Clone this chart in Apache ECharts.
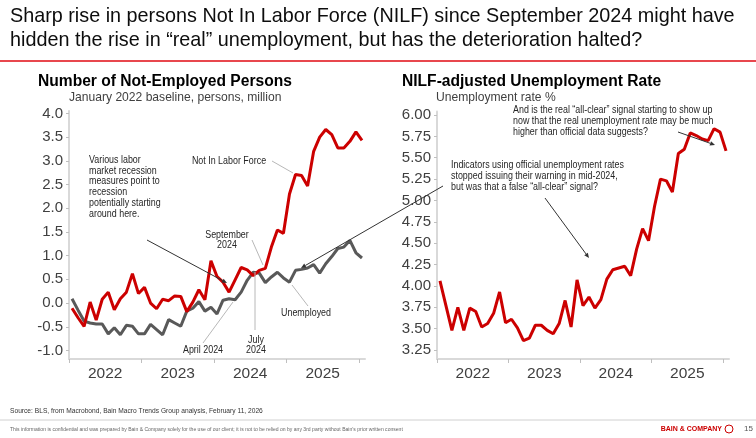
<!DOCTYPE html>
<html><head><meta charset="utf-8">
<script src="https://cdn.jsdelivr.net/npm/echarts@6/dist/echarts.min.js"></script>
<style>html,body{margin:0;padding:0;background:#fff}#c{width:756px;height:438px}</style>
</head><body><div id="c"></div>
<script>
// Months Jan 2022 .. Jan 2026 (49 monthly points)
const months = ['2022-01','2022-02','2022-03','2022-04','2022-05','2022-06','2022-07','2022-08','2022-09','2022-10','2022-11','2022-12',
'2023-01','2023-02','2023-03','2023-04','2023-05','2023-06','2023-07','2023-08','2023-09','2023-10','2023-11','2023-12',
'2024-01','2024-02','2024-03','2024-04','2024-05','2024-06','2024-07','2024-08','2024-09','2024-10','2024-11','2024-12',
'2025-01','2025-02','2025-03','2025-04','2025-05','2025-06','2025-07','2025-08','2025-09','2025-10','2025-11','2025-12','2026-01'];
const yearLabels = ['2022','2023','2024','2025'];
const leftTicks = [-1.0,-0.5,0.0,0.5,1.0,1.5,2.0,2.5,3.0,3.5,4.0];
const rightTicks = [3.25,3.50,3.75,4.00,4.25,4.50,4.75,5.00,5.25,5.50,5.75,6.00];
// Not In Labor Force change vs Jan 2022 (million)
const nilf = [-0.11,-0.31,-0.49,0.02,-0.36,0.08,0.23,-0.14,0.09,0.23,0.62,0.20,
0.33,0.00,-0.12,0.08,0.05,0.15,0.14,-0.18,0.02,0.28,0.07,0.89,
0.56,0.44,0.23,0.49,0.75,0.70,0.58,0.69,0.73,1.18,1.54,1.47,
2.30,2.71,2.69,2.47,3.20,3.50,3.66,3.55,3.27,3.27,3.41,3.61,3.43];
// Unemployed change vs Jan 2022 (million)
const unemployed = [0.09,-0.15,-0.38,-0.42,-0.44,-0.44,-0.65,-0.52,-0.67,-0.47,-0.49,-0.65,
-0.65,-0.45,-0.56,-0.67,-0.35,-0.42,-0.49,-0.17,-0.11,0.03,-0.17,-0.09,
-0.23,0.06,0.09,0.07,0.23,0.48,0.65,0.63,0.43,0.55,0.65,0.53,
0.44,0.69,0.71,0.74,0.81,0.63,0.83,0.98,1.15,1.18,1.32,1.06,0.95];
// NILF-adjusted unemployment rate (%)
const adjRate = [4.06,3.77,3.48,3.75,3.48,3.74,3.70,3.52,3.56,3.68,3.93,3.57,
3.61,3.51,3.36,3.39,3.54,3.54,3.48,3.44,3.56,3.83,3.52,4.07,
3.77,3.87,3.74,3.84,4.08,4.19,4.21,4.23,4.12,4.43,4.67,4.53,
4.93,5.25,5.23,5.10,5.55,5.60,5.79,5.76,5.72,5.70,5.84,5.80,5.58];

const toPts = arr => arr.map((v,i)=>[i+0.5, v]);
const FONT = "'Liberation Sans', Arial, sans-serif";
const axisGray = '#d9d9d9';
const labelColor = '#404040';

function xAxisCfg(gi){
  return {type:'value', gridIndex:gi, min:0, max:49,
    axisLine:{show:true, onZero:false, lineStyle:{color:axisGray, width:2}},
    axisTick:{show:true, customValues:[0,12,24,36,48], length:4, lineStyle:{color:'#bfbfbf', width:1}},
    axisLabel:{customValues:[6,18,30,42], formatter:v=>yearLabels[Math.round((v-6)/12)], fontSize:15.5, color:labelColor, fontFamily:FONT, margin:7},
    splitLine:{show:false}};
}
function yAxisCfg(gi,min,max,ticks,dec){
  return {type:'value', gridIndex:gi, min:min, max:max,
    axisLine:{show:true, onZero:false, lineStyle:{color:axisGray, width:2}},
    axisTick:{show:true, customValues:ticks, length:3, lineStyle:{color:'#bfbfbf', width:1}},
    axisLabel:{customValues:ticks, formatter:v=>v.toFixed(dec), fontSize:15, color:labelColor, fontFamily:FONT, margin:6},
    splitLine:{show:false}};
}
function txt(x,y,text,opt){
  opt = opt||{};
  return {type:'text', x:x, y:y, silent:true, z:50, scaleX:(opt.sx===undefined?0.89:opt.sx),
    style:{text:text, fill:opt.fill||'#262626',
    font:opt.font||('10px '+FONT), textAlign:opt.align||'left', textVerticalAlign:'middle', lineHeight:opt.lh||11}};
}
function seg(x1,y1,x2,y2,color,w){
  return {type:'line', silent:true, z:40, shape:{x1,y1,x2,y2}, style:{stroke:color, lineWidth:w||1}};
}
function arrow(x1,y1,x2,y2,color){
  const a = Math.atan2(y2-y1,x2-x1), L=5, W=2.2;
  const bx = x2 - L*Math.cos(a), by = y2 - L*Math.sin(a);
  const px = -Math.sin(a)*W, py = Math.cos(a)*W;
  return [seg(x1,y1,bx,by,color,1),
    {type:'polygon', silent:true, z:41, shape:{points:[[x2,y2],[bx+px,by+py],[bx-px,by-py]]}, style:{fill:color}}];
}

const chart = echarts.init(document.getElementById('c'), null, {renderer:'canvas'});
const lc = '#b8b8b8';
const graphics = [
  txt(10,17,'Sharp rise in persons Not In Labor Force (NILF) since September 2024 might have',{font:'19.8px '+FONT, fill:'#0d0d0d', sx:1}),
  txt(10,41,'hidden the rise in \u201creal\u201d unemployment, but has the deterioration halted?',{font:'19.8px '+FONT, fill:'#0d0d0d', sx:1}),
  seg(0,61,756,61,'#e8474d',2),
  txt(38,82,'Number of Not-Employed Persons',{font:'bold 15.6px '+FONT, fill:'#000', sx:1}),
  txt(69,98,'January 2022 baseline, persons, million',{font:'12.1px '+FONT, fill:labelColor, sx:1}),
  txt(402,82,'NILF-adjusted Unemployment Rate',{font:'bold 15.6px '+FONT, fill:'#000', sx:1}),
  txt(436,98,'Unemployment rate %',{font:'12.1px '+FONT, fill:labelColor, sx:1}),
  // left annotations
  txt(229,161,'Not In Labor Force',{align:'center'}),
  seg(272,161,293,173,lc,1),
  txt(89,187,'Various labor\nmarket recession\nmeasures point to\nrecession\npotentially starting\naround here.',{lh:10.8}),
  ...arrow(147,240,227,283,'#333'),
  txt(227,240,'September\n2024',{align:'center',lh:10}),
  seg(252,240,263,265,lc,1),
  txt(203,350,'April 2024',{align:'center'}),
  seg(203,343,233,302,lc,1),
  txt(256,345,'July\n2024',{align:'center',lh:10}),
  seg(255,272,255,330,lc,1),
  txt(306,313,'Unemployed',{align:'center'}),
  seg(292,285,308,306,lc,1),
  ...arrow(443,186,301,268,'#333'),
  // right annotations
  txt(451,176,'Indicators using official unemployment rates\nstopped issuing their warning in mid-2024,\nbut was that a false \u201call-clear\u201d signal?',{lh:11.2}),
  ...arrow(545,198,589,258,'#333'),
  txt(513,121,'And is the real \u201call-clear\u201d signal starting to show up\nnow that the real unemployment rate may be much\nhigher than official data suggests?',{lh:10.8}),
  ...arrow(678,132,715,145,'#333'),
  // footer
  txt(10,411,'Source: BLS, from Macrobond, Bain Macro Trends Group analysis, February 11, 2026',{font:'7px '+FONT, fill:'#333', sx:0.95}),
  seg(0,420,756,420,'#d0d0d0',1),
  txt(10,429,'This information is confidential and was prepared by Bain & Company solely for the use of our client; it is not to be relied on by any 3rd party without Bain\u2019s prior written consent',{font:'5.5px '+FONT, fill:'#666', sx:0.92}),
  txt(722,429,'BAIN & COMPANY',{font:'bold 7px '+FONT, fill:'#cc0000', align:'right', sx:1}),
  {type:'circle', silent:true, shape:{cx:729, cy:429, r:4}, style:{fill:'none', stroke:'#cc0000', lineWidth:1}},
  txt(744,429,'15',{font:'8px '+FONT, fill:'#555', sx:1})
];

chart.setOption({
  animation:false,
  backgroundColor:'#fff',
  grid:[
    {left:69, right:391, top:111, bottom:79, containLabel:false},
    {left:437, right:27, top:111.6, bottom:79, containLabel:false}
  ],
  xAxis:[xAxisCfg(0), xAxisCfg(1)],
  yAxis:[yAxisCfg(0,-1.18,4.05,leftTicks,1), yAxisCfg(1,3.145,6.04,rightTicks,2)],
  series:[
    {name:'Unemployed', type:'line', xAxisIndex:0, yAxisIndex:0, data:toPts(unemployed), showSymbol:false,
      lineStyle:{color:'#595959', width:3}, z:3},
    {name:'Not In Labor Force', type:'line', xAxisIndex:0, yAxisIndex:0, data:toPts(nilf), showSymbol:false,
      lineStyle:{color:'#cc0000', width:3}, z:4},
    {name:'NILF-adjusted Unemployment Rate', type:'line', xAxisIndex:1, yAxisIndex:1, data:toPts(adjRate), showSymbol:false,
      lineStyle:{color:'#cc0000', width:3}, z:4}
  ],
  graphic:graphics
});
</script></body></html>
